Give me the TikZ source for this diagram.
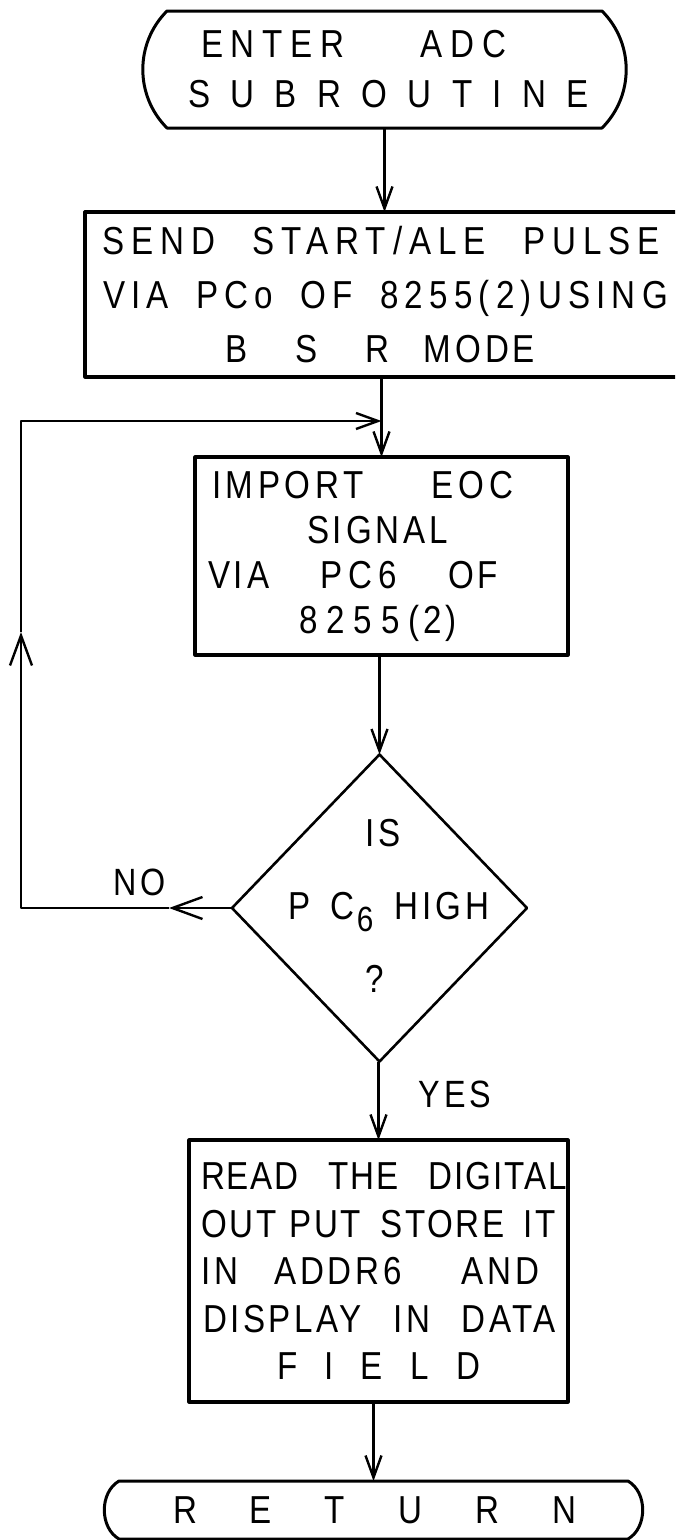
\documentclass[tikz,border=0pt]{standalone}
\usepackage{fontspec}
\setmainfont{Liberation Sans}[FakeStretch=0.85,LetterSpace=10]
\usetikzlibrary{arrows.meta,shapes.geometric}
\newcommand\TL[4]{\hspace*{#1pt}\makebox[#2pt][s]{\addfontfeature{LetterSpace=#3}#4}}
\begin{document}
\begin{tikzpicture}[x=1pt,y=-1pt,line join=round,
  every node/.style={inner sep=0pt, outer sep=0pt},
  boxnode/.style={draw, line width=3.2pt, rectangle, align=left},
  termnode/.style={rectangle, align=left},
  termline/.style={line width=3pt},
  conn/.style={line width=2.4pt},
  arr/.style={conn, -{Straight Barb[length=22pt,width=16pt]}},
  bigarr/.style={conn, -{Straight Barb[length=30pt,width=22pt]}},
  lbl/.style={font=\fontsize{38}{38}\selectfont}
]
\useasboundingbox (0,0) rectangle (675,1540);
\clip (0,0) rectangle (675,1540);

% start terminal
\node[termnode, text width=435pt, minimum height=117pt, font=\fontsize{39}{50}\selectfont] (start) at (384.5,69.5)
  {\TL{34}{305}{20}{ENTER \hfil ADC}\\ \TL{21}{401}{0}{S\hfil U\hfil B\hfil R\hfil O\hfil U\hfil T\hfil I\hfil N\hfil E}};
\draw[termline] (start.north west) -- (start.north east) to[bend left=45] (start.south east)
  -- (start.south west) to[bend left=45] (start.north west) -- cycle;

% box 2
\node[boxnode, text width=605pt, minimum height=165pt, font=\fontsize{39}{54}\selectfont] (b2) at (387.5,294.5)
  {\TL{17}{558}{18}{SEND \hfil START/ALE \hfil PULSE}\\
   \TL{18}{565}{16}{VIA \hfil PCo \hfil OF \hfil 8255(2)USING}\\
   \TL{140}{310}{10}{B \hfil S \hfil R \hspace{8pt} MODE}};

% box 3
\node[boxnode, text width=373pt, minimum height=198pt, font=\fontsize{39}{45}\selectfont] (b3) at (381.5,556)
  {\TL{17}{301}{12}{IMPORT \hfil E\hspace{5pt}O\hspace{5pt}C}\\
   \TL{112}{150}{10}{SIGNAL}\\
   \TL{13}{290}{10}{VIA \hfil P\hspace{6pt}C\hspace{6pt}6 \hfil OF}\\
   \TL{104}{158}{10}{8\hfil 2\hfil 5\hfil 5\hfil(2)}};

% decision
\node[diamond, draw, line width=2.6pt, minimum width=295pt, minimum height=307pt, font=\fontsize{39}{73}\selectfont] (dec) at (379.5,908)
  {\makebox[0pt]{\raisebox{-3.5pt}[0pt][0pt]{\begin{tabular}{@{}c@{}}\hspace*{7pt}IS\\
   \hspace*{18pt}\makebox[201pt][s]{P\hfil C\hspace{2pt}\raisebox{-12pt}{\fontsize{35}{35}\selectfont 6}\hfil HIGH}\\
   ?\hspace*{9pt}\end{tabular}}}};

\node[lbl] (no) at (140,882) {NO};
\node[lbl] (yes) at (455,1094) {YES};

% box 4
\node[boxnode, text width=379pt, minimum height=262pt, font=\fontsize{39}{47.5}\selectfont] (b4) at (378.5,1271)
  {\TL{12}{366}{5}{READ \hfil THE \hfil DIGITAL}\\
   \TL{12}{355}{7}{OUT PUT \hfil STORE \hfil IT}\\
   \TL{12}{338}{10}{IN \hfil ADDR6 \hfil\hfil AND}\\
   \TL{14}{353}{9}{DISPLAY \hfil IN \hfil DATA}\\
   \TL{88}{203}{0}{F\hfil I\hfil E\hfil L\hfil D}};

% return terminal
\node[termnode, text width=509pt, minimum height=58pt, font=\fontsize{39}{39}\selectfont] (ret) at (373.5,1510)
  {\TL{54}{403}{0}{R\hfil E\hfil T\hfil U\hfil R\hfil N}};
\draw[termline] (ret.north west) -- (ret.north east) to[bend left=60] (ret.south east)
  -- (ret.south west) to[bend left=60] (ret.north west) -- cycle;

% connectors
\coordinate (looptop) at (21,421);
\coordinate (jn) at (b3.north |- looptop);
\coordinate (loopbot) at (looptop |- dec.west);
\coordinate (noTip) at (169,908);
\coordinate (upTip) at (21,632);

\draw[arr] (start.south) -- (start.south |- b2.north);
\draw[arr] (b3.north |- b2.south) -- (b3.north);
\draw[arr] (dec.north |- b3.south) -- (dec.north);
\draw[arr] (b4.north |- dec.south) -- (b4.north);
\draw[arr] (ret.north |- b4.south) -- (ret.north);

\draw[bigarr] (dec.west) -- (noTip);
\draw[bigarr] (noTip) -- (loopbot) -- (upTip);
\draw[arr] (upTip) -- (looptop) -- (jn);
\end{tikzpicture}
\end{document}
